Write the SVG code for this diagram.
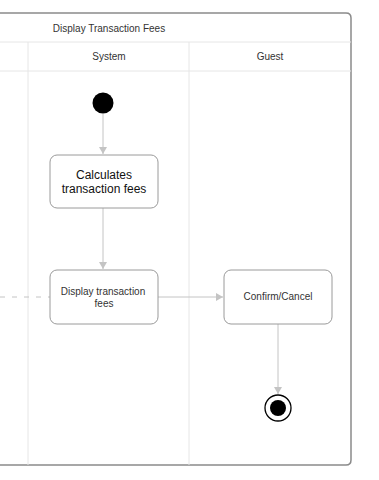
<svg xmlns="http://www.w3.org/2000/svg" width="379" height="480" viewBox="0 0 379 480">
  <style>
    .frame { fill: #ffffff; stroke: #8a8a8a; stroke-width: 1.5; }
    .grid { stroke: #e6e6e6; stroke-width: 1; fill: none; }
    .act { fill: #ffffff; stroke: #9a9a9a; stroke-width: 1; }
    .edge { stroke: #c4c4c4; stroke-width: 1; fill: none; }
    text { font-family: "Liberation Sans", Arial, sans-serif; fill: #333333; text-anchor: middle; }
    .hdr { font-size: 10px; }
    .small { font-size: 10px; }
    .big { font-size: 12px; fill: #111111; }
  </style>
  <defs>
    <marker id="arrow" markerWidth="8" markerHeight="8" refX="7" refY="4" orient="auto" markerUnits="userSpaceOnUse">
      <path d="M0,0 L7,4 L0,8 Z" fill="#c4c4c4"/>
    </marker>
  </defs>

  <!-- swimlane frame -->
  <g id="frame">
    <path class="frame" d="M-5,13 H346 Q351,13 351,18 V460 Q351,465 346,465 H-5 Z"/>
    <line class="grid" x1="0" y1="42" x2="351" y2="42"/>
    <line class="grid" x1="0" y1="71" x2="351" y2="71"/>
    <line class="grid" x1="28" y1="42" x2="28" y2="465"/>
    <line class="grid" x1="189" y1="42" x2="189" y2="465"/>
    <text class="hdr" x="109" y="32">Display Transaction Fees</text>
    <text class="hdr" x="109" y="60">System</text>
    <text class="hdr" x="270" y="60">Guest</text>
  </g>

  <!-- connectors -->
  <g id="connectors">
    <line class="edge" x1="103" y1="114" x2="103" y2="154" marker-end="url(#arrow)"/>
    <line class="edge" x1="103" y1="208" x2="103" y2="269" marker-end="url(#arrow)"/>
    <line class="edge" x1="158" y1="297" x2="223" y2="297" marker-end="url(#arrow)"/>
    <line class="edge" x1="278" y1="324" x2="278" y2="394" marker-end="url(#arrow)"/>
    <line class="edge" x1="0" y1="297" x2="50" y2="297" stroke="#d8d8d8" stroke-dasharray="5,7"/>
  </g>

  <g id="start">
    <circle cx="103" cy="103" r="10.5" fill="#000000"/>
  </g>

  <g id="calculate">
    <rect class="act" x="50" y="155" width="108" height="53" rx="7"/>
    <text class="big" x="104" y="179">Calculates</text>
    <text class="big" x="104" y="193">transaction fees</text>
  </g>

  <g id="display">
    <rect class="act" x="50" y="270" width="108" height="54" rx="7"/>
    <text class="small" x="103" y="295">Display transaction</text>
    <text class="small" x="104" y="307">fees</text>
  </g>

  <g id="confirm">
    <rect class="act" x="224" y="270" width="108" height="54" rx="7"/>
    <text class="small" x="278" y="300">Confirm/Cancel</text>
  </g>

  <g id="end">
    <circle cx="278" cy="408" r="13" fill="#ffffff" stroke="#000000" stroke-width="1.3"/>
    <circle cx="278" cy="408" r="8" fill="#000000"/>
  </g>
</svg>
